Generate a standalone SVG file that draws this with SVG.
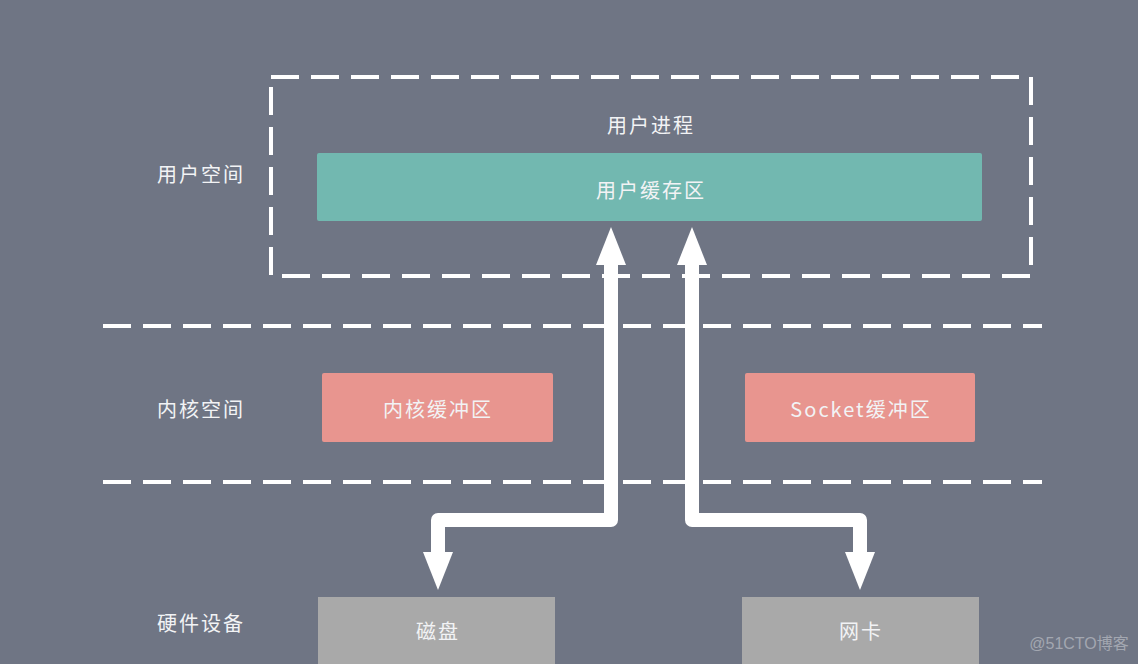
<svg xmlns="http://www.w3.org/2000/svg" width="1138" height="664" viewBox="0 0 1138 664">
<style>
.t{font-family:"Noto Sans CJK SC","Liberation Sans",sans-serif;fill:#f2f3f5;font-size:20px;letter-spacing:2px;text-anchor:middle;dominant-baseline:central}
.d{fill:none;stroke:#ffffff;stroke-width:4;stroke-dasharray:28 12}
.a{fill:none;stroke:#ffffff;stroke-width:14;stroke-linejoin:round}
.h{fill:#ffffff}
</style>
<rect width="1138" height="664" fill="#6f7584"/>
<g id="userspace">
<rect class="d" x="271" y="77" width="760" height="199"/>
<text class="t" x="651" y="124">用户进程</text>
</g>
<g id="divider1"><line class="d" x1="103" y1="326" x2="1042" y2="326"/></g>
<g id="divider2"><line class="d" x1="103" y1="482" x2="1042" y2="482"/></g>
<g id="label-user"><text class="t" x="201" y="173">用户空间</text></g>
<g id="label-kernel"><text class="t" x="201" y="408">内核空间</text></g>
<g id="label-hw"><text class="t" x="201" y="622">硬件设备</text></g>
<g id="user-buffer">
<rect x="317" y="153" width="665" height="68" rx="2" fill="#72b8b0"/>
<text class="t" x="651" y="189">用户缓存区</text>
</g>
<g id="kernel-buffer">
<rect x="322" y="373" width="231" height="69" rx="2" fill="#e8958f"/>
<text class="t" x="438" y="408">内核缓冲区</text>
</g>
<g id="socket-buffer">
<rect x="745" y="373" width="230" height="69" rx="2" fill="#e8958f"/>
<text class="t" x="861" y="408">Socket缓冲区</text>
</g>
<g id="disk">
<rect x="318" y="597" width="237" height="70" fill="#a9a9a9"/>
<text class="t" x="438" y="630">磁盘</text>
</g>
<g id="nic">
<rect x="742" y="597" width="237" height="70" fill="#a9a9a9"/>
<text class="t" x="861" y="630">网卡</text>
</g>
<g id="connectors">
<polyline class="a" points="438,553 438,520 611,520 611,262"/>
<polygon class="h" points="611,227 626,265 596,265"/>
<polygon class="h" points="438,590 423,552 453,552"/>
<polyline class="a" points="860,553 860,520 692,520 692,262"/>
<polygon class="h" points="692,227 707,265 677,265"/>
<polygon class="h" points="860,590 845,552 875,552"/>
</g>
<text x="1079" y="643" font-family="Liberation Sans,Noto Sans CJK SC,sans-serif" font-size="16" fill="#a3a7b1" text-anchor="middle" dominant-baseline="central">@51CTO博客</text>
</svg>
